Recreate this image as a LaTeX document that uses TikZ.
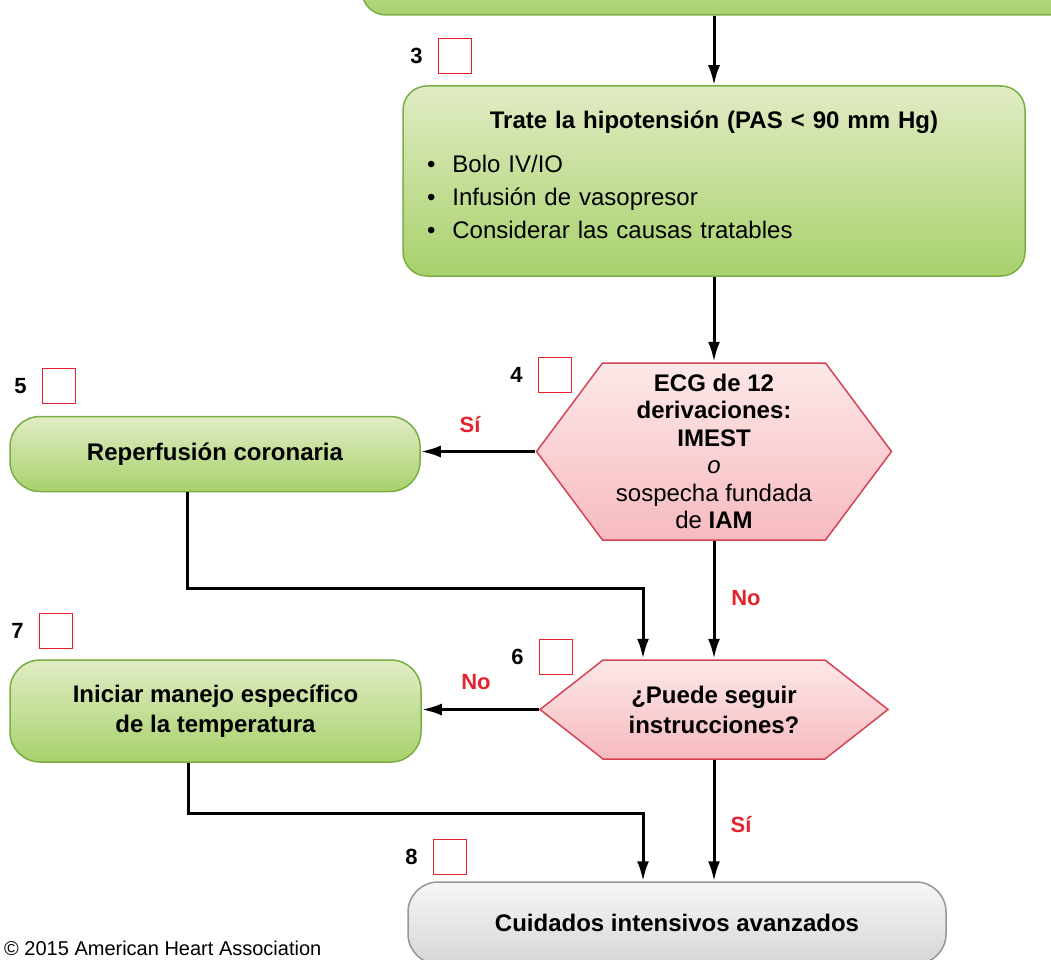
\documentclass[tikz,border=0pt]{standalone}
\usepackage{fontspec}
\setmainfont{Liberation Sans}
\usepackage{tikz}
\usetikzlibrary{arrows.meta}
\usetikzlibrary{positioning}

\definecolor{greentop}{RGB}{225,236,196}
\definecolor{greenbot}{RGB}{168,209,108}
\definecolor{greenline}{RGB}{122,174,68}
\definecolor{hextop}{RGB}{253,232,232}
\definecolor{hexbot}{RGB}{246,186,191}
\definecolor{hexline}{RGB}{212,68,82}
\definecolor{greytop}{RGB}{247,247,247}
\definecolor{greybot}{RGB}{214,214,214}
\definecolor{greyline}{RGB}{150,150,150}
\definecolor{stepred}{RGB}{230,35,45}

\newcommand{\boxfont}{\fontsize{24}{30}\selectfont}

\begin{document}
\begin{tikzpicture}[x=1pt, y=-1pt,
    flow/.style={line width=3pt, -{Latex[length=20pt,width=12pt]}},
    greenbox/.style={draw=greenline, line width=1.5pt, rounded corners=24pt,
        top color=greentop, bottom color=greenbot, font=\boxfont\bfseries, align=center},
    greybox/.style={draw=greyline, line width=1.5pt, rounded corners=30pt,
        top color=greytop, bottom color=greybot, font=\boxfont\bfseries, align=center},
    % hexagon drawn inside the node box, #1 = depth of the side points
    hexa/.style={align=center, font=\boxfont\bfseries,
        path picture={
            \shadedraw[top color=hextop, bottom color=hexbot, draw=hexline, line width=1.5pt]
                ([xshift=1pt]path picture bounding box.west)
                -- ([xshift=#1pt, yshift=-1pt]path picture bounding box.north west)
                -- ([xshift=-#1pt, yshift=-1pt]path picture bounding box.north east)
                -- ([xshift=-1pt]path picture bounding box.east)
                -- ([xshift=-#1pt, yshift=1pt]path picture bounding box.south east)
                -- ([xshift=#1pt, yshift=1pt]path picture bounding box.south west)
                -- cycle;
        }},
    stepbox/.style={draw=stepred, line width=1.5pt, minimum width=33pt, minimum height=35pt, inner sep=0pt},
    stepnum/.style={font=\fontsize{22}{22}\selectfont\bfseries, inner sep=0pt},
    answer/.style={text=stepred, font=\fontsize{22}{22}\selectfont\bfseries, inner sep=0pt}
]
    \useasboundingbox (0,0) rectangle (1051,960);

    % x of the main column
    \def\xm{714}

    % boxes
    \node[greenbox, font=\fontsize{24}{33}\selectfont, minimum width=760, minimum height=80] (prev) at (742,-25) {};
    \node[greenbox, font=\fontsize{24}{33}\selectfont, text width=574, inner xsep=24, minimum height=190, align=left] (hipo) at (\xm,181)
        {{\centering\bfseries Trate la hipotensión (PAS < 90 mm Hg)\par}\vspace{11pt}
         \textbullet\hspace{17pt}Bolo IV/IO\\
         \textbullet\hspace{17pt}Infusión de vasopresor\\
         \textbullet\hspace{17pt}Considerar las causas tratables\rule[-12pt]{0pt}{12pt}};
    \node[hexa=67, minimum width=357, minimum height=179, font=\fontsize{24}{27.5}\selectfont] (ecg) at (\xm,451.5)
        {\textbf{ECG de 12}\\\textbf{derivaciones:}\\\textbf{IMEST}\\\textit{o}\\sospecha fundada\\de \textbf{IAM}};
    \node[greenbox, minimum width=410, minimum height=75, rounded corners=30pt] (reper) at (215,454) {Reperfusión coronaria};
    \node[hexa=64, minimum width=350, minimum height=101] (instr) at (\xm,709.5) {¿Puede seguir\\instrucciones?};
    \node[greenbox, minimum width=411, minimum height=102, rounded corners=30pt] (temp) at (215.5,711)
        {Iniciar manejo específico\\de la temperatura};
    \node[greybox, minimum width=538, minimum height=82] (cuid) at (677,923) {Cuidados intensivos avanzados};

    % step numbers
    \node[stepbox] (s3) at (455,56) {};
    \node[stepnum, left=15pt of s3] {3};
    \node[stepbox] (s4) at (555,375) {};
    \node[stepnum, left=15pt of s4] {4};
    \node[stepbox] (s5) at (59,386) {};
    \node[stepnum, left=15pt of s5] {5};
    \node[stepbox] (s6) at (556,657) {};
    \node[stepnum, left=15pt of s6] {6};
    \node[stepbox] (s7) at (56,631) {};
    \node[stepnum, left=15pt of s7] {7};
    \node[stepbox] (s8) at (450,857) {};
    \node[stepnum, left=15pt of s8] {8};

    % connectors
    \draw[flow] (prev.south -| hipo.north) -- (hipo.north);
    \draw[flow] (hipo.south) -- (ecg.north);
    \draw[flow] (ecg.west) -- (ecg.west -| reper.east);
    \draw[flow] (ecg.south) -- (instr.north);
    \draw[flow] ([xshift=-28pt]reper.south) -- ++(0,96) -| ([xshift=-71pt]instr.north);
    \draw[flow] (instr.west) -- (instr.west -| temp.east);
    \draw[flow] ([xshift=-27pt]temp.south) -- ++(0,51) -| ([xshift=-34pt]cuid.north);
    \draw[flow] (instr.south) -- (instr.south |- cuid.north);

    % answers
    \node[answer] (si1) at (470,425) {Sí};
    \node[answer] (no1) at (746,598) {No};
    \node[answer] (no2) at (476,682) {No};
    \node[answer] (si2) at (741,825) {Sí};

    \node[anchor=base west, font=\fontsize{20}{22}\selectfont, inner sep=0pt] (copy) at (4,955)
        {© 2015 American Heart Association};
\end{tikzpicture}
\end{document}
